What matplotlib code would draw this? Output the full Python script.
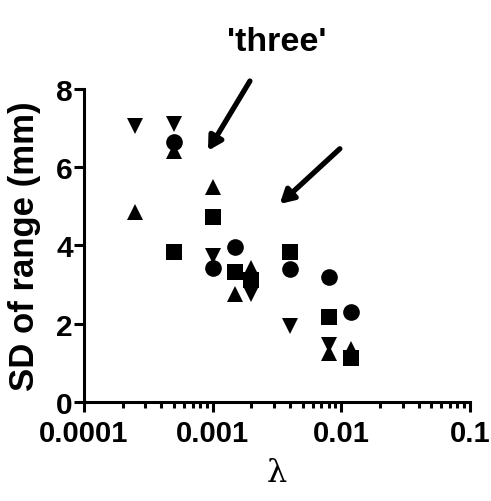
import matplotlib
matplotlib.use('Agg')
import matplotlib.pyplot as plt
from matplotlib.ticker import LogLocator, NullFormatter

plt.rcParams['font.family'] = ['Liberation Sans', 'DejaVu Sans']

# lambda values and SD of range (mm) for each marker series
circle_x = [0.0005, 0.001, 0.0015, 0.004, 0.008, 0.012]
circle_y = [6.65, 3.42, 3.96, 3.40, 3.19, 2.30]
square_x = [0.0005, 0.001, 0.0015, 0.002, 0.004, 0.008, 0.012]
square_y = [3.83, 4.73, 3.32, 3.12, 3.83, 2.17, 1.12]
tri_up_x = [0.00025, 0.0005, 0.001, 0.0015, 0.002, 0.008, 0.012]
tri_up_y = [4.86, 6.42, 5.50, 2.76, 3.42, 1.25, 1.35]
tri_dn_x = [0.00025, 0.0005, 0.001, 0.002, 0.004, 0.008]
tri_dn_y = [7.05, 7.10, 3.73, 2.76, 1.94, 1.46]

fig = plt.figure(figsize=(4.91, 5.02), dpi=100)
ax = fig.add_axes([0.171, 0.197, 0.786, 0.624])

ms = 12
ax.plot(circle_x, circle_y, 'o', color='black', ms=ms, mew=0, clip_on=False)
ax.plot(square_x, square_y, 's', color='black', ms=ms, mew=0, clip_on=False)
ax.plot(tri_up_x, tri_up_y, '^', color='black', ms=ms, mew=0, clip_on=False)
ax.plot(tri_dn_x, tri_dn_y, 'v', color='black', ms=ms, mew=0, clip_on=False)

ax.set_xscale('log')
ax.set_xlim(0.0001, 0.1)
ax.set_ylim(0, 8)
ax.set_xticks([0.0001, 0.001, 0.01, 0.1])
ax.set_xticklabels(['0.0001', '0.001', '0.01', '0.1'])
ax.xaxis.set_minor_locator(LogLocator(base=10, subs=range(2, 10)))
ax.xaxis.set_minor_formatter(NullFormatter())
ax.set_yticks([0, 2, 4, 6, 8])

for s in ['top', 'right']:
    ax.spines[s].set_visible(False)
for s in ['left', 'bottom']:
    ax.spines[s].set_linewidth(2.2)

ax.tick_params(which='major', direction='out', length=7, width=2.2,
               labelsize=21.5, pad=1)
ax.tick_params(axis='x', which='major', pad=5, labelsize=21)
ax.tick_params(which='minor', direction='out', length=4.5, width=2.2)
for lab in ax.get_xticklabels() + ax.get_yticklabels():
    lab.set_fontweight('bold')

ax.set_ylabel('SD of range (mm)', fontsize=25, fontweight='bold')
ax.yaxis.set_label_coords(-0.112, 0.5)
ax.set_xlabel('λ', fontsize=23, family='DejaVu Serif')
ax.xaxis.set_label_coords(0.5, -0.175)
ax.set_title("'three'", fontsize=24.5, fontweight='bold', pad=28)

# arrows pointing at the data
arrow = dict(arrowstyle='-|>,head_length=0.8,head_width=0.45', lw=3.8,
             color='black', shrinkA=0, shrinkB=0)
ax.annotate('', xy=(0.00092, 6.42), xytext=(0.00195, 8.2), arrowprops=arrow,
            annotation_clip=False)
ax.annotate('', xy=(0.00333, 5.06), xytext=(0.00975, 6.47), arrowprops=arrow,
            annotation_clip=False)

fig.savefig('out.png', dpi=100)
